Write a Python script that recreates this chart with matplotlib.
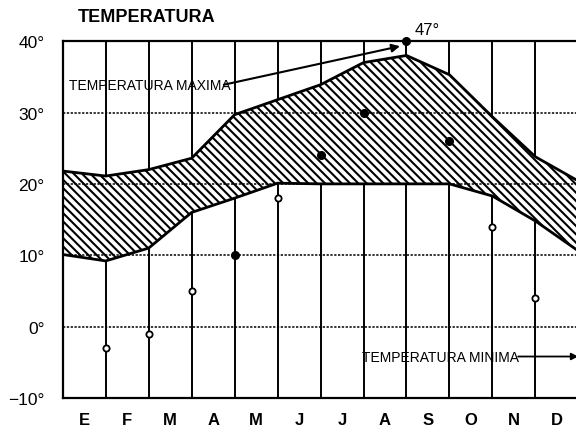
import numpy as np
import matplotlib
matplotlib.use('Agg')
import matplotlib.pyplot as plt

months = ['E', 'F', 'M', 'A', 'M', 'J', 'J', 'A', 'S', 'O', 'N', 'D']
# valores en los limites de cada mes (13 puntos)
t_max = [21.8, 21.1, 22.0, 23.6, 29.7, 31.8, 33.9, 37.0, 38.0, 35.3, 29.4, 23.8, 20.4]
t_min = [10.1, 9.2, 11.0, 16.0, 18.0, 20.1, 20.0, 20.0, 20.0, 20.0, 18.3, 14.8, 10.6]
# valores extremos
ext_val = [-3, -1, 5, 10, 18, 24, 30, 40, 26, 14, 4]
ext_filled = [False, False, False, True, False, True, True, True, True, False, False]
y_ticks = [-10, 0, 10, 20, 30, 40]

fnt = ['Liberation Sans', 'DejaVu Sans']
plt.rcParams['hatch.linewidth'] = 1.5

fig = plt.figure(figsize=(5.76, 4.35), dpi=100)
ax = fig.add_axes([0.109, 0.083, 0.895, 0.82])

xb = np.arange(len(t_max))
ax.fill_between(xb, t_min, t_max, facecolor='white', edgecolor='black',
                hatch='\\\\\\\\', linewidth=0, zorder=2)
ax.plot(xb, t_max, color='black', lw=2, zorder=3)
ax.plot(xb, t_min, color='black', lw=2, zorder=3)

# rejilla
for x in range(1, 12):
    ax.axvline(x, color='black', lw=1.4, zorder=1.5)
for y in [0, 10, 20, 30]:
    ax.axhline(y, color='black', lw=1.1, ls=(0, (1.5, 1)), zorder=2.5)

# puntos extremos
for i, (v, f) in enumerate(zip(ext_val, ext_filled)):
    if f:
        ax.plot(i + 1, v, 'o', color='black', ms=5.5, zorder=5, clip_on=False)
    else:
        ax.plot(i + 1, v, 'o', mfc='white', mec='black', mew=1.3, ms=4.5, zorder=5)

ax.text(8.2, 41.6, '47°', fontsize=12, family=fnt, va='center', ha='left')

ax.annotate('', xy=(7.85, 39.3), xytext=(3.75, 33.9),
            arrowprops=dict(arrowstyle='-|>', color='black', lw=1.5,
                            mutation_scale=12, shrinkA=0, shrinkB=0))
ax.text(0.15, 33.9, 'TEMPERATURA MAXIMA', fontsize=10, family=fnt,
        va='center', ha='left', zorder=6)

ax.annotate('', xy=(12.0, -4.2), xytext=(10.6, -4.2),
            arrowprops=dict(arrowstyle='-|>', color='black', lw=1.3,
                            mutation_scale=10, shrinkA=0, shrinkB=0))
ax.text(6.97, -4.2, 'TEMPERATURA MINIMA', fontsize=10, family=fnt,
        va='center', ha='left', zorder=6)

ax.set_xlim(0, 12)
ax.set_ylim(-10, 40)
ax.set_xticks(np.arange(12) + 0.5)
ax.set_xticklabels(months, fontsize=12, fontweight='bold', family=fnt)
ax.set_yticks(y_ticks)
ax.set_yticklabels([f'{v}°'.replace('-', '−') for v in y_ticks], fontsize=12.5, family=fnt)
ax.tick_params(length=0)
ax.tick_params(axis='y', pad=13)
ax.tick_params(axis='x', pad=10)
for s in ax.spines.values():
    s.set_linewidth(1.6)

fig.text(0.135, 0.96, 'TEMPERATURA', fontsize=13, fontweight='bold',
         family=fnt, va='center', ha='left')

fig.savefig('out.png', dpi=100)
